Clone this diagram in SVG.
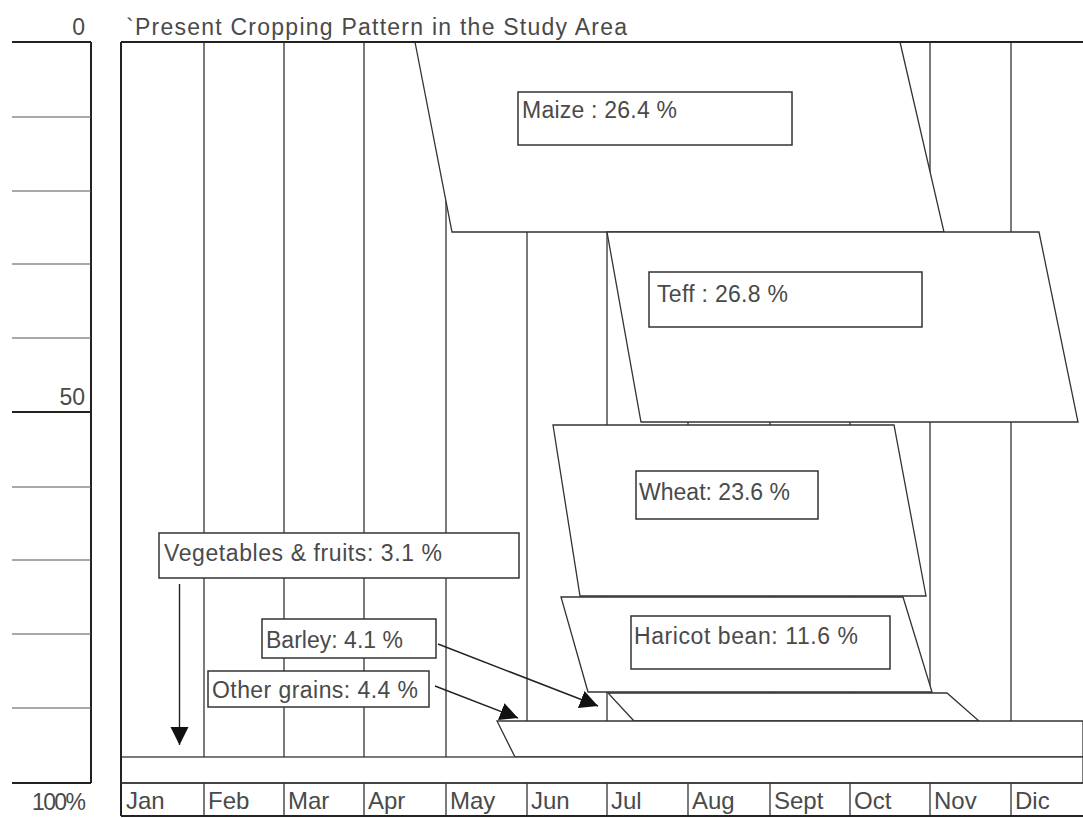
<svg xmlns="http://www.w3.org/2000/svg" width="1083" height="818" viewBox="0 0 1083 818">
  <style>
    .txt { font-family: "Liberation Sans", Arial, sans-serif; font-size: 23px; fill: #4a4a4a; }
    .month { font-family: "Liberation Sans", Arial, sans-serif; font-size: 24px; fill: #4a4a4a; }
    .grid { stroke: #333; stroke-width: 1.3; fill: none; }
    .frame { stroke: #222; stroke-width: 2; fill: none; }
    .tick { stroke: #555; stroke-width: 1.2; }
    .tick-major { stroke: #222; stroke-width: 2; }
    .crop { fill: #fff; stroke: #333; stroke-width: 1.3; stroke-linejoin: miter; }
    .label { fill: #fff; stroke: #333; stroke-width: 1.5; }
    .conn { stroke: #222; stroke-width: 1.4; fill: none; marker-end: url(#arrow); }
  </style>
  <defs>
    <marker id="arrow" markerUnits="userSpaceOnUse" markerWidth="20" markerHeight="20" refX="18" refY="9" orient="auto">
      <path d="M0,0 L18,9 L0,18 z" fill="#111"/>
    </marker>
  </defs>

  <rect width="1083" height="818" fill="#fff"/>

  <!-- percentage scale on the left -->
  <g id="scale">
    <line x1="91" y1="42" x2="91" y2="783" class="tick-major"/>
    <line x1="12" y1="42" x2="91" y2="42" class="tick-major"/>
    <line x1="12" y1="117" x2="91" y2="117" class="tick"/>
    <line x1="12" y1="191" x2="91" y2="191" class="tick"/>
    <line x1="12" y1="264" x2="91" y2="264" class="tick"/>
    <line x1="12" y1="338" x2="91" y2="338" class="tick"/>
    <line x1="12" y1="412" x2="91" y2="412" class="tick-major"/>
    <line x1="12" y1="487" x2="91" y2="487" class="tick"/>
    <line x1="12" y1="560" x2="91" y2="560" class="tick"/>
    <line x1="12" y1="634" x2="91" y2="634" class="tick"/>
    <line x1="12" y1="708" x2="91" y2="708" class="tick"/>
    <line x1="12" y1="783" x2="91" y2="783" class="tick-major"/>
    <text class="txt" x="85" y="35" text-anchor="end">0</text>
    <text class="txt" x="85" y="405" text-anchor="end">50</text>
    <text class="txt" x="32" y="810" textLength="54" font-size="22">100%</text>
  </g>

  <text id="title" class="txt" x="126" y="35" font-size="25" textLength="501">`Present Cropping Pattern in the Study Area</text>

  <!-- month grid -->
  <g id="grid">
    <line class="grid" x1="204" y1="42" x2="204" y2="816"/>
    <line class="grid" x1="284" y1="42" x2="284" y2="816"/>
    <line class="grid" x1="364" y1="42" x2="364" y2="816"/>
    <line class="grid" x1="446" y1="42" x2="446" y2="816"/>
    <line class="grid" x1="527" y1="42" x2="527" y2="816"/>
    <line class="grid" x1="607" y1="42" x2="607" y2="816"/>
    <line class="grid" x1="688" y1="42" x2="688" y2="816"/>
    <line class="grid" x1="770" y1="42" x2="770" y2="816"/>
    <line class="grid" x1="850" y1="42" x2="850" y2="816"/>
    <line class="grid" x1="930" y1="42" x2="930" y2="816"/>
    <line class="grid" x1="1011" y1="42" x2="1011" y2="816"/>
  </g>

  <!-- crop periods -->
  <g id="maize">
    <polygon class="crop" points="415,42 900,42 944,232 452,232"/>
    <rect class="label" x="518" y="92" width="274" height="53"/>
    <text class="txt" x="522" y="118" textLength="155">Maize : 26.4 %</text>
  </g>
  <g id="teff">
    <polygon class="crop" points="607,232 1039,232 1078,422 641,422"/>
    <rect class="label" x="649" y="272" width="273" height="55"/>
    <text class="txt" x="657" y="302" textLength="131">Teff : 26.8 %</text>
  </g>
  <g id="wheat">
    <polygon class="crop" points="553,425 894,425 926,596 580,596"/>
    <rect class="label" x="636" y="471" width="182" height="48"/>
    <text class="txt" x="639" y="500" textLength="151">Wheat: 23.6 %</text>
  </g>
  <g id="haricot-bean">
    <polygon class="crop" points="561,597 903,597 932,692 588,692"/>
    <rect class="label" x="631" y="616" width="259" height="53"/>
    <text class="txt" x="634" y="644" textLength="224">Haricot bean: 11.6 %</text>
  </g>
  <g id="barley">
    <polygon class="crop" points="608,693 947,693 979,721 634,721"/>
    <rect class="label" x="262" y="619" width="174" height="39"/>
    <text class="txt" x="266" y="648" textLength="137">Barley: 4.1 %</text>
  </g>
  <g id="other-grains">
    <polygon class="crop" points="497,721 1083,721 1083,757 515,757"/>
    <rect class="label" x="208" y="671" width="221" height="36"/>
    <text class="txt" x="212" y="698" textLength="206">Other grains: 4.4 %</text>
  </g>
  <g id="vegetables-fruits">
    <rect class="crop" x="121" y="757" width="962" height="26"/>
    <rect class="label" x="159" y="533" width="360" height="45"/>
    <text class="txt" x="164" y="561" textLength="278">Vegetables &amp; fruits: 3.1 %</text>
  </g>

  <!-- chart frame -->
  <g id="frame">
    <line class="frame" x1="121" y1="42" x2="1083" y2="42"/>
    <line class="frame" x1="121" y1="42" x2="121" y2="816"/>
    <line class="frame" x1="121" y1="816" x2="1083" y2="816"/>
    <line class="grid" x1="121" y1="783" x2="1083" y2="783"/>
  </g>

  <!-- month labels -->
  <g id="months">
    <text class="month" x="126" y="809">Jan</text>
    <text class="month" x="208" y="809">Feb</text>
    <text class="month" x="288" y="809">Mar</text>
    <text class="month" x="368" y="809">Apr</text>
    <text class="month" x="450" y="809">May</text>
    <text class="month" x="531" y="809">Jun</text>
    <text class="month" x="611" y="809">Jul</text>
    <text class="month" x="692" y="809">Aug</text>
    <text class="month" x="774" y="809">Sept</text>
    <text class="month" x="854" y="809">Oct</text>
    <text class="month" x="934" y="809">Nov</text>
    <text class="month" x="1015" y="809">Dic</text>
  </g>

  <!-- pointers from labels to their strips -->
  <g id="connectors">
    <line class="conn" x1="179.5" y1="584" x2="179.5" y2="745"/>
    <line class="conn" x1="438" y1="644" x2="598" y2="706"/>
    <line class="conn" x1="435" y1="686" x2="518" y2="718"/>
  </g>
</svg>
